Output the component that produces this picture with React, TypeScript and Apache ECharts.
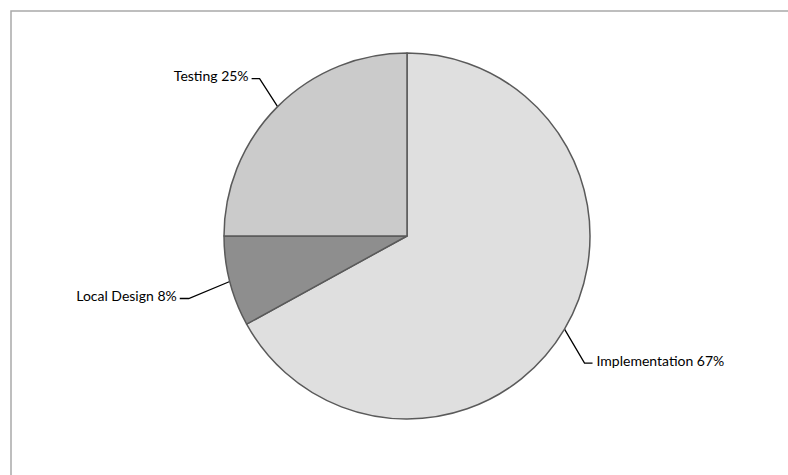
import React, { useEffect, useRef } from "react";
import * as echarts from "echarts";

// Effort split by phase
const categories = ["Implementation", "Local Design", "Testing"];
const shares = [67, 8, 25];
const sliceColors = ["#dfdfdf", "#8e8e8e", "#cbcbcb"];

// Leader-line shape per slice: elbow offset from the slice edge, then a short horizontal run
const leaderElbow: number[][] = [
  [20, 34],
  [-41, 17],
  [-18, -28],
];
const leaderRun = [8, -9, -8];

export default function App() {
  const ref = useRef<HTMLDivElement>(null);

  useEffect(() => {
    if (!ref.current) return;
    const chart = echarts.init(ref.current, null, { renderer: "svg" });
    chart.setOption({
      animation: false,
      backgroundColor: "#ffffff",
      graphic: [
        {
          type: "rect",
          shape: { x: 11, y: 11, width: 820, height: 520 },
          style: { fill: "none", stroke: "#a9a9a9", lineWidth: 1.5 },
          silent: true,
        },
      ],
      series: [
        {
          type: "pie",
          center: [407, 236],
          radius: 183,
          startAngle: 90,
          clockwise: true,
          avoidLabelOverlap: false,
          itemStyle: { borderColor: "#5a5a5a", borderWidth: 1.5 },
          label: {
            show: true,
            position: "outside",
            formatter: "{b} {d}%",
            color: "#000000",
            fontFamily: "Lato",
            fontSize: 14,
          },
          labelLine: {
            show: true,
            length: 20,
            length2: 8,
            lineStyle: { color: "#000000", width: 1.3 },
          },
          labelLayout: (params: any) => {
            const i = params.dataIndex;
            const start = params.labelLinePoints[0];
            const elbow = [start[0] + leaderElbow[i][0], start[1] + leaderElbow[i][1]];
            const end = [elbow[0] + leaderRun[i], elbow[1]];
            const right = leaderRun[i] > 0;
            return {
              x: end[0] + (right ? 4 : -3),
              y: end[1] - 3,
              align: right ? "left" : "right",
              verticalAlign: "middle",
              labelLinePoints: [start, elbow, end],
            };
          },
          data: categories.map((name, i) => ({
            name,
            value: shares[i],
            itemStyle: { color: sliceColors[i] },
          })),
        },
      ],
    });
    return () => chart.dispose();
  }, []);

  return (
    <div
      ref={ref}
      style={{ position: "fixed", left: 0, top: 0, width: 788, height: 475 }}
    />
  );
}
